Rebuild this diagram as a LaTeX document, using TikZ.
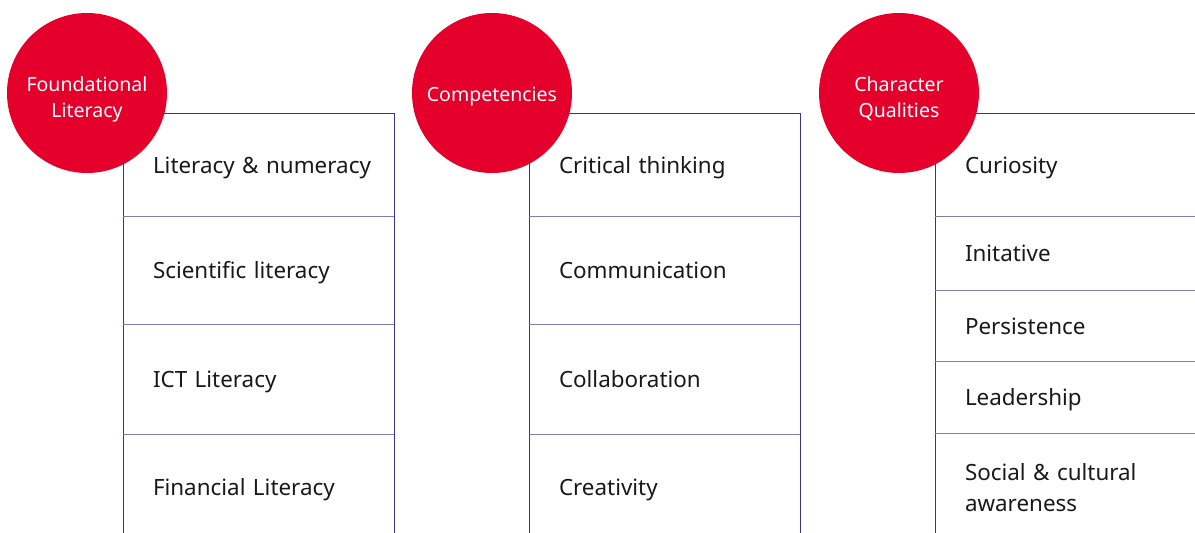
\documentclass[tikz,border=0pt]{standalone}
\usepackage{fontspec}
\setmainfont{Noto Sans}
\definecolor{linec}{HTML}{3A348C}
\definecolor{divc}{HTML}{7E7BB5}
\definecolor{redc}{HTML}{E4002B}
\tikzset{
  cell/.style={anchor=north west, minimum height=#1, outer sep=0pt,
    text width=211pt, inner xsep=30pt, inner ysep=0pt, align=left,
    text height=20pt, text depth=3pt,
    font=\fontsize{22.4}{31}\selectfont, text=black!90},
  cellw/.style={cell=#1, text width=240pt},
  frame/.style={draw=linec, line width=1pt},
  divider/.style={draw=divc, line width=1pt},
  badge/.style={circle, fill=redc, minimum size=160pt, inner sep=0pt},
  badgetext/.style={text=white, align=center, font=\fontsize{19.5}{26}\selectfont}
}
\begin{document}
\begin{tikzpicture}[x=1pt,y=-1pt]
\useasboundingbox (0,0) rectangle (1195,533);
\clip (0,0) rectangle (1195,533);
% column 1
\node[cell=103pt] (a1) at (123,113) {\mbox{Literacy \& numeracy}};
\node[cell=108pt] (a2) at (a1.south west) {Scientific literacy};
\node[cell=110pt] (a3) at (a2.south west) {ICT Literacy};
\node[cell=106pt] (a4) at (a3.south west) {Financial Literacy};
% column 2
\node[cell=103pt] (b1) at (529,113) {Critical thinking};
\node[cell=108pt] (b2) at (b1.south west) {Communication};
\node[cell=110pt] (b3) at (b2.south west) {Collaboration};
\node[cell=106pt] (b4) at (b3.south west) {Creativity};
% column 3
\node[cellw=103pt] (c1) at (935,113) {Curiosity};
\node[cellw=74pt] (c2) at (c1.south west) {Initative};
\node[cellw=71pt] (c3) at (c2.south west) {Persistence};
\node[cellw=72pt] (c4) at (c3.south west) {Leadership};
\node[cellw=110pt, text height=, text depth=] (c5) at (c4.south west) {Social \& cultural\\awareness};
% frames
\foreach \t/\b in {a1/a4, b1/b4, c1/c5}{
  \draw[frame] (\b.south west) -- (\t.north west) -- (\t.north east) -- (\b.south east);
}
\foreach \n in {a1,a2,a3,b1,b2,b3,c1,c2,c3,c4}{
  \draw[divider] (\n.south west) -- (\n.south east);
}
% badges
\node[badge] (fl) at (87,93) {};
\node[badge] (co) at (492,93) {};
\node[badge] (cq) at (899,93) {};
\node[badgetext] (flt) at ([yshift=-6pt]fl.center) {Foundational\\Literacy};
\node[badgetext] (cot) at ([yshift=-4pt]co.center) {Competencies};
\node[badgetext] (cqt) at ([yshift=-6pt]cq.center) {Character\\Qualities};
\end{tikzpicture}
\end{document}
